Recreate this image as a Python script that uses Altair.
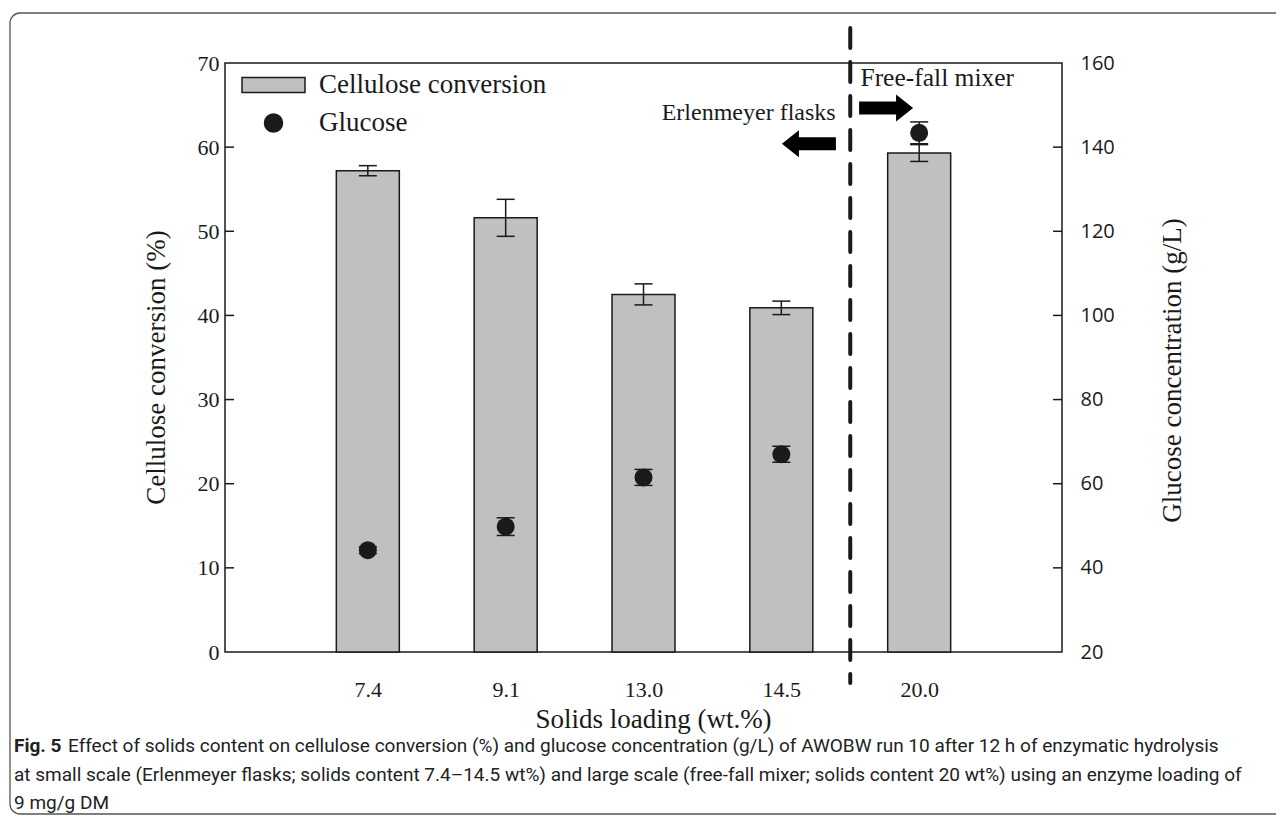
import altair as alt
import pandas as pd

# ---------------- data ----------------
loading = ["7.4", "9.1", "13.0", "14.5", "20.0"]
position = [1, 2, 3, 4, 5]
conversion = [57.2, 51.6, 42.5, 40.9, 59.3]
conversion_err = [0.6, 2.2, 1.25, 0.8, 1.0]
glucose = [44.2, 49.8, 61.5, 67.0, 143.4]
glucose_err = [0.8, 2.1, 1.9, 1.9, 2.6]
series_names = ["Cellulose conversion", "Glucose"]
left_ticks = [10, 20, 30, 40, 50, 60]
right_ticks = [40, 60, 80, 100, 120, 140]
divider_at = [4.5]
annotations = ["Erlenmeyer flasks", "Free-fall mixer"]
caption_bold = "Fig. 5"
caption_lines = [
    "Effect of solids content on cellulose conversion (%) and glucose concentration (g/L) of AWOBW run 10 after 12 h of enzymatic hydrolysis",
    "at small scale (Erlenmeyer flasks; solids content 7.4\u201314.5 wt%) and large scale (free-fall mixer; solids content 20 wt%) using an enzyme loading of",
    "9 mg/g DM",
]

# ---------------- layout / style ----------------
W, H = 837, 589
SERIF = "Liberation Serif"
CAPFONT = "Roboto"
CAPSIZE = 19
INK = "#1a1a1a"
BAR = "#c0c0c0"

df = pd.DataFrame({
    "pos": position,
    "label": loading,
    "conv": conversion,
    "conv_lo": [c - e for c, e in zip(conversion, conversion_err)],
    "conv_hi": [c + e for c, e in zip(conversion, conversion_err)],
    "gluc": glucose,
    "gluc_lo": [g - e for g, e in zip(glucose, glucose_err)],
    "gluc_hi": [g + e for g, e in zip(glucose, glucose_err)],
    "s_bar": series_names[0],
    "s_pt": series_names[1],
})

label_expr = "[" + ",".join("'%s'" % l for l in loading) + "][datum.value - 1]"

x_axis = alt.Axis(values=position, labelExpr=label_expr, title="Solids loading (wt.%)",
                  ticks=False, tickSize=0, domain=False, grid=False,
                  labelFont=SERIF, labelFontSize=22, labelColor=INK, labelPadding=27,
                  labelFlush=False,
                  titleFont=SERIF, titleFontSize=27, titleFontWeight="normal",
                  titleColor=INK, titlePadding=6, titleX=428)
x_scale = alt.Scale(domain=[0, 6], nice=False, zero=False)
X = alt.X("pos:Q", scale=x_scale, axis=x_axis)

yl_scale = alt.Scale(domain=[0, 70], nice=False, zero=False)
yl_axis = alt.Axis(values=list(range(0, 71, 10)), title="Cellulose conversion (%)", orient="left",
                   ticks=False, tickSize=0, domain=False, grid=False,
                   labelFont=SERIF, labelFontSize=22, labelColor=INK, labelPadding=6,
                   labelFlush=False, labelOverlap=False,
                   titleFont=SERIF, titleFontSize=27, titleFontWeight="normal", titleColor=INK,
                   titleAngle=270, titleBaseline="middle", titleX=-69, titleY=304)

yr_scale = alt.Scale(domain=[20, 160], nice=False, zero=False)
yr_axis = alt.Axis(values=list(range(20, 161, 20)), title="Glucose concentration (g/L)", orient="right",
                   ticks=False, tickSize=0, domain=False, grid=False,
                   labelFont="Open Sans", labelFontSize=20, labelColor=INK, labelPadding=18,
                   labelFlush=False, labelOverlap=False,
                   titleFont=SERIF, titleFontSize=27, titleFontWeight="normal", titleColor=INK,
                   titleAngle=270, titleBaseline="middle", titleX=110, titleY=307)

rect_path = "M-3.5,-0.83L3.5,-0.83L3.5,0.83L-3.5,0.83Z"
fill_scale = alt.Scale(domain=series_names, range=[BAR, INK])
shape_scale = alt.Scale(domain=series_names, range=[rect_path, "circle"])
legend = alt.Legend(title=None, orient="none", legendX=35, legendY=8.5, padding=0,
                    symbolSize=324, symbolStrokeColor=INK, symbolStrokeWidth=1.5,
                    labelFont=SERIF, labelFontSize=27, labelColor=INK, labelOffset=32,
                    labelLimit=500, rowPadding=10)

# ---------------- left-axis layers ----------------
bars = alt.Chart(df).mark_bar(size=63, stroke=INK, strokeWidth=1.5).encode(
    x=X,
    y=alt.Y("conv:Q", scale=yl_scale, axis=yl_axis),
    fill=alt.Fill("s_bar:N", scale=fill_scale, legend=legend),
)
conv_rule = alt.Chart(df).mark_rule(color=INK, strokeWidth=1.5).encode(
    x=X, y=alt.Y("conv_lo:Q", scale=yl_scale, axis=yl_axis), y2="conv_hi:Q")
conv_cap_lo = alt.Chart(df).mark_tick(orient="horizontal", size=18, thickness=1.5, color=INK, opacity=1).encode(
    x=X, y=alt.Y("conv_lo:Q", scale=yl_scale, axis=yl_axis))
conv_cap_hi = alt.Chart(df).mark_tick(orient="horizontal", size=18, thickness=1.5, color=INK, opacity=1).encode(
    x=X, y=alt.Y("conv_hi:Q", scale=yl_scale, axis=yl_axis))
left_tick_marks = alt.Chart(pd.DataFrame({"v": left_ticks})).mark_rule(color=INK, strokeWidth=1.5).encode(
    y=alt.Y("v:Q", scale=yl_scale, axis=yl_axis), x=alt.value(0), x2=alt.value(9))

divider = alt.Chart(pd.DataFrame({"pos": divider_at})).mark_rule(
    color=INK, strokeWidth=4, strokeDash=[20, 14], strokeCap="round").encode(
    x=X, y=alt.value(-35), y2=alt.value(620))

arrow_right_path = "M-1,-0.24L0.37,-0.24L0.37,-0.5L1,0L0.37,0.5L0.37,0.24L-1,0.24Z"
arrow_left_path = "M1,-0.24L-0.37,-0.24L-0.37,-0.5L-1,0L-0.37,0.5L-0.37,0.24L1,0.24Z"
arrow_left = alt.Chart(pd.DataFrame({"pos": [4.2], "v": [60.4]})).mark_point(
    shape=arrow_left_path, filled=True, size=2916, color="#000000", opacity=1).encode(
    x=X, y=alt.Y("v:Q", scale=yl_scale, axis=yl_axis))
arrow_right = alt.Chart(pd.DataFrame({"pos": [4.76], "v": [64.65]})).mark_point(
    shape=arrow_right_path, filled=True, size=2916, color="#000000", opacity=1).encode(
    x=X, y=alt.Y("v:Q", scale=yl_scale, axis=yl_axis))

text_left = alt.Chart(pd.DataFrame({"pos": [4.394], "v": [64.1], "t": [annotations[0]]})).mark_text(
    font=SERIF, fontSize=24, color=INK, align="right", baseline="middle").encode(
    x=X, y=alt.Y("v:Q", scale=yl_scale, axis=yl_axis), text="t:N")
text_right = alt.Chart(pd.DataFrame({"pos": [4.574], "v": [68.2], "t": [annotations[1]]})).mark_text(
    font=SERIF, fontSize=25.5, color=INK, align="left", baseline="middle").encode(
    x=X, y=alt.Y("v:Q", scale=yl_scale, axis=yl_axis), text="t:N")

# ---------------- right-axis layers ----------------
points = alt.Chart(df).mark_point(filled=True, size=324, opacity=1).encode(
    x=X,
    y=alt.Y("gluc:Q", scale=yr_scale, axis=yr_axis),
    fill=alt.Fill("s_pt:N", scale=fill_scale, legend=legend),
    shape=alt.Shape("s_pt:N", scale=shape_scale, legend=legend),
)
gluc_rule = alt.Chart(df).mark_rule(color=INK, strokeWidth=1.5).encode(
    x=X, y=alt.Y("gluc_lo:Q", scale=yr_scale, axis=yr_axis), y2="gluc_hi:Q")
gluc_cap_lo = alt.Chart(df).mark_tick(orient="horizontal", size=18, thickness=1.5, color=INK, opacity=1).encode(
    x=X, y=alt.Y("gluc_lo:Q", scale=yr_scale, axis=yr_axis))
gluc_cap_hi = alt.Chart(df).mark_tick(orient="horizontal", size=18, thickness=1.5, color=INK, opacity=1).encode(
    x=X, y=alt.Y("gluc_hi:Q", scale=yr_scale, axis=yr_axis))
right_tick_marks = alt.Chart(pd.DataFrame({"v": right_ticks})).mark_rule(color=INK, strokeWidth=1.5).encode(
    y=alt.Y("v:Q", scale=yr_scale, axis=yr_axis), x=alt.value(W - 9), x2=alt.value(W))

# ---------------- caption and frame ----------------
cap_bold = alt.Chart(pd.DataFrame({"t": [caption_bold]})).mark_text(
    font=CAPFONT, fontSize=CAPSIZE, fontWeight="bold", color="#222",
    align="left", baseline="middle").encode(
    text="t:N", x=alt.value(-211), y=alt.value(683))
cap1 = alt.Chart(pd.DataFrame({"t": [caption_lines[0]]})).mark_text(
    font=CAPFONT, fontSize=CAPSIZE, color="#222", align="left", baseline="middle").encode(
    text="t:N", x=alt.value(-157), y=alt.value(683))
cap2 = alt.Chart(pd.DataFrame({"t": [caption_lines[1]]})).mark_text(
    font=CAPFONT, fontSize=CAPSIZE, color="#222", align="left", baseline="middle").encode(
    text="t:N", x=alt.value(-211), y=alt.value(712))
cap3 = alt.Chart(pd.DataFrame({"t": [caption_lines[2]]})).mark_text(
    font=CAPFONT, fontSize=CAPSIZE, color="#222", align="left", baseline="middle").encode(
    text="t:N", x=alt.value(-211), y=alt.value(740))
frame = alt.Chart(pd.DataFrame({"t": [0]})).mark_rect(
    fillOpacity=0, stroke="#555555", strokeWidth=1.3, cornerRadius=10).encode(
    x=alt.value(-215), x2=alt.value(1065), y=alt.value(-50), y2=alt.value(751))

left = alt.layer(bars, conv_rule, conv_cap_lo, conv_cap_hi, left_tick_marks, divider,
                 arrow_left, arrow_right, text_left, text_right,
                 frame, cap_bold, cap1, cap2, cap3)
right = alt.layer(points, gluc_rule, gluc_cap_lo, gluc_cap_hi, right_tick_marks)

chart = alt.layer(left, right).resolve_scale(y="independent").properties(
    width=W, height=H,
    autosize=alt.AutoSizeParams(type="none"),
    padding={"left": 217, "top": 55, "right": 214, "bottom": 164},
).configure_view(stroke=INK, strokeWidth=1.5)

chart.save("out.html", embed_options={"renderer": "svg", "actions": False})
